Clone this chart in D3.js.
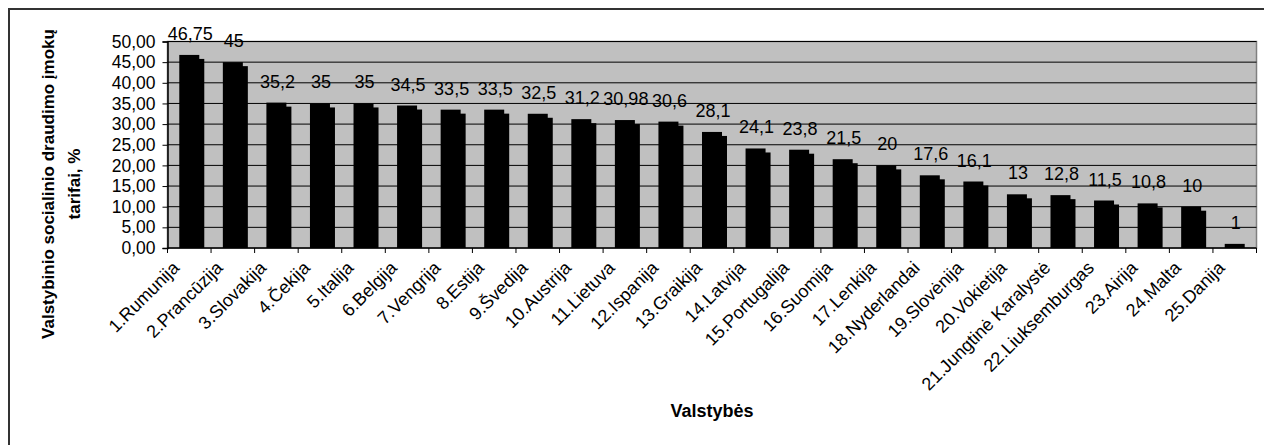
<!DOCTYPE html>
<html>
<head>
<meta charset="utf-8">
<script src="https://cdn.jsdelivr.net/npm/d3@7"></script>
<style>
  body { margin: 0; background: #fff; }
  text { font-family: Arial, "Liberation Sans", sans-serif; fill: #000; }
</style>
</head>
<body>
<div id="chart"></div>
<script>
var countries = ["1.Rumunija", "2.Prancūzija", "3.Slovakija", "4.Čekija", "5.Italija", "6.Belgija",
    "7.Vengrija", "8.Estija", "9.Švedija", "10.Austrija", "11.Lietuva", "12.Ispanija", "13.Graikija",
    "14.Latvija", "15.Portugalija", "16.Suomija", "17.Lenkija", "18.Nyderlandai", "19.Slovėnija",
    "20.Vokietija", "21.Jungtinė Karalystė", "22.Liuksemburgas", "23.Airija", "24.Malta", "25.Danija"];
var rates = [46.75, 45, 35.2, 35, 35, 34.5, 33.5, 33.5, 32.5, 31.2, 30.98, 30.6, 28.1,
    24.1, 23.8, 21.5, 20, 17.6, 16.1, 13, 12.8, 11.5, 10.8, 10, 1];
var yTicks = [0, 5, 10, 15, 20, 25, 30, 35, 40, 45, 50];

var W = 1264, H = 445;
var margin = {t: 41.5, r: 7.5, b: 197, l: 167.5};
var width = W - margin.l - margin.r,
    height = H - margin.t - margin.b;

var svg = d3.select('#chart').append('svg')
    .attr('width', W)
    .attr('height', H);

// outer chart frame (runs off the right and bottom edges)
svg.append('rect')
    .attr('x', 9).attr('y', 9)
    .attr('width', W + 20).attr('height', H + 20)
    .attr('fill', 'none')
    .attr('stroke', '#333')
    .attr('stroke-width', 2);

var g = svg.append('g').attr('transform', 'translate(' + margin.l + ',' + margin.t + ')');

var x = d3.scaleBand().domain(countries).range([0, width]).paddingInner(0).paddingOuter(0);
var y = d3.scaleLinear().domain([0, 50]).range([height, 0]);

var fmtTick = function(v){ return d3.format('.2f')(v).replace('.', ','); };
var fmtVal = function(v){ return String(v).replace('.', ','); };

// plot area
g.append('rect')
    .attr('width', width).attr('height', height)
    .attr('fill', '#c0c0c0')
    .attr('stroke', '#808080')
    .attr('stroke-width', 1.5);

// gridlines
g.append('g').selectAll('line')
    .data(yTicks.filter(function(d){ return d > 0; }))
    .enter().append('line')
    .attr('x1', 0).attr('x2', width)
    .attr('y1', function(d){ return y(d); })
    .attr('y2', function(d){ return y(d); })
    .attr('stroke', '#000')
    .attr('stroke-width', 1);

// bars with drop shadow
var barW = 20, sdx = 5, sdy = 4;
var bars = g.append('g').selectAll('.bar')
    .data(rates)
    .enter().append('g')
    .attr('class', 'bar')
    .attr('transform', function(d, i){ return 'translate(' + (x(countries[i]) + x.bandwidth() / 2 - barW / 2) + ',0)'; });

bars.append('rect')
    .attr('x', sdx)
    .attr('y', function(d){ return Math.min(y(d) + sdy, height); })
    .attr('width', barW)
    .attr('height', function(d){ return Math.max(height - y(d) - sdy, 0); })
    .attr('fill', '#000');

bars.append('rect')
    .attr('x', 0)
    .attr('y', function(d){ return y(d); })
    .attr('width', barW)
    .attr('height', function(d){ return height - y(d); })
    .attr('fill', '#000');

// data labels
g.append('g').selectAll('text')
    .data(rates)
    .enter().append('text')
    .attr('x', function(d, i){ return x(countries[i]) + x.bandwidth() / 2 + 1; })
    .attr('y', function(d){ return y(d) - 15; })
    .attr('text-anchor', 'middle')
    .style('font-size', '18px')
    .text(fmtVal);

// y axis
var yAxis = g.append('g')
    .call(d3.axisLeft(y).tickValues(yTicks).tickFormat(fmtTick).tickSize(5).tickPadding(7));
yAxis.select('.domain').attr('stroke', '#000').attr('stroke-width', 1.5);
yAxis.selectAll('.tick line').attr('stroke', '#000');
yAxis.selectAll('text').style('font-size', '17.5px').style('font-family', 'Arial, "Liberation Sans", sans-serif');

// x axis: ticks between categories
var xAxis = g.append('g').attr('transform', 'translate(0,' + height + ')');
xAxis.append('line')
    .attr('x1', 0).attr('x2', width)
    .attr('stroke', '#000').attr('stroke-width', 1.5);
xAxis.selectAll('.tk')
    .data(d3.range(countries.length + 1))
    .enter().append('line')
    .attr('class', 'tk')
    .attr('x1', function(i){ return i * x.step(); })
    .attr('x2', function(i){ return i * x.step(); })
    .attr('y1', 0).attr('y2', 5)
    .attr('stroke', '#000');
xAxis.selectAll('.lbl')
    .data(countries)
    .enter().append('text')
    .attr('class', 'lbl')
    .attr('text-anchor', 'end')
    .attr('transform', function(d){ return 'translate(' + (x(d) + x.bandwidth() / 2 - 9) + ',21) rotate(-45)'; })
    .style('font-size', '18px')
    .text(function(d){ return d; });

// axis titles
svg.append('text')
    .attr('x', margin.l + width / 2)
    .attr('y', 417)
    .attr('text-anchor', 'middle')
    .style('font-size', '18px')
    .style('font-weight', 'bold')
    .text('Valstybės');

var yTitle = svg.append('text')
    .attr('transform', 'translate(54,184) rotate(-90)')
    .attr('text-anchor', 'middle')
    .style('font-size', '17px')
    .style('font-weight', 'bold');
yTitle.append('tspan').attr('x', 0).attr('y', 0).text('Valstybinio socialinio draudimo įmokų');
yTitle.append('tspan').attr('x', 0).attr('y', 26).text('tarifai, %');
</script>
</body>
</html>
